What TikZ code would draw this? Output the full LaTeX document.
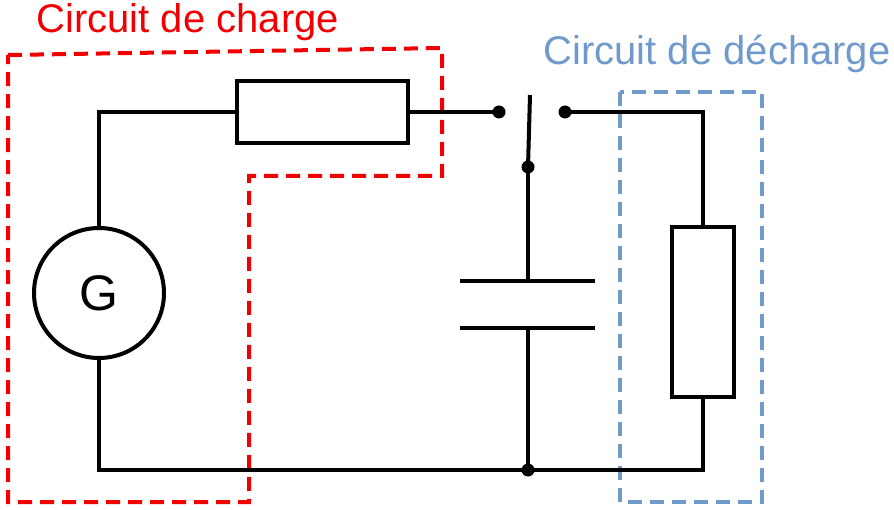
\documentclass[tikz,border=0pt]{standalone}
\usepackage{fontspec}
\setmainfont{Liberation Sans}
\begin{document}
\begin{tikzpicture}[x=1pt,y=-1pt,
 w/.style={line width=4pt,black},
 dot/.style={circle,fill=black,inner sep=0pt,minimum size=13pt},
 red/.style={line width=4pt,draw={rgb,255:red,240;green,0;blue,0},dash pattern=on 14pt off 8pt},
 blu/.style={line width=4pt,draw={rgb,255:red,112;green,153;blue,204},dash pattern=on 14pt off 8pt}]
\useasboundingbox (0,0) rectangle (894,510);
\definecolor{myred}{RGB}{240,0,0}
\definecolor{myblue}{RGB}{112,153,204}
\draw[red] (8,55) -- (442,48) -- (442,176) -- (249,176) -- (249,502) -- (8,502) -- cycle;
\draw[blu] (620,92) rectangle (762,502);
\node[text=myred,font=\fontsize{40}{44}\selectfont,anchor=west] (t1) at (33,22) {Circuit de charge};
\node[text=myblue,font=\fontsize{40}{44}\selectfont,anchor=west] (t2) at (540,54) {Circuit de décharge};
\node[w,draw,circle,minimum size=130pt,inner sep=0pt,font=\fontsize{50}{54}\selectfont] (G) at (99,293) {G};
\node[w,draw,rectangle,minimum width=171pt,minimum height=62pt,inner sep=0pt] (R1) at (322.5,112) {};
\node[w,draw,rectangle,minimum width=62pt,minimum height=170pt,inner sep=0pt] (R2) at (703,312) {};
\node[dot] (d1) at (499,112) {};
\node[dot] (d2) at (528,167) {};
\node[dot] (d3) at (565,112) {};
\node[dot] (d4) at (528,470) {};
\coordinate (tl) at (99,112);
\coordinate (bl) at (99,470);
\coordinate (tr) at (703,112);
\coordinate (br) at (703,470);
\coordinate (sw) at (530,95);
\coordinate (c1) at (528,281);
\coordinate (c2) at (528,328);
\coordinate (p1a) at (460,281); \coordinate (p1b) at (595,281);
\coordinate (p2a) at (460,328); \coordinate (p2b) at (595,328);
\draw[w] (G.north) -- (tl) -- (R1.west);
\draw[w] (R1.east) -- (d1.center);
\draw[w] (d2.center) -- (sw);
\draw[w] (d3.center) -- (tr) -- (R2.north);
\draw[w] (R2.south) -- (br) -- (bl) -- (G.south);
\draw[w] (d2.center) -- (c1);
\draw[w] (c2) -- (d4.center);
\draw[w] (p1a) -- (p1b);
\draw[w] (p2a) -- (p2b);
\end{tikzpicture}
\end{document}
